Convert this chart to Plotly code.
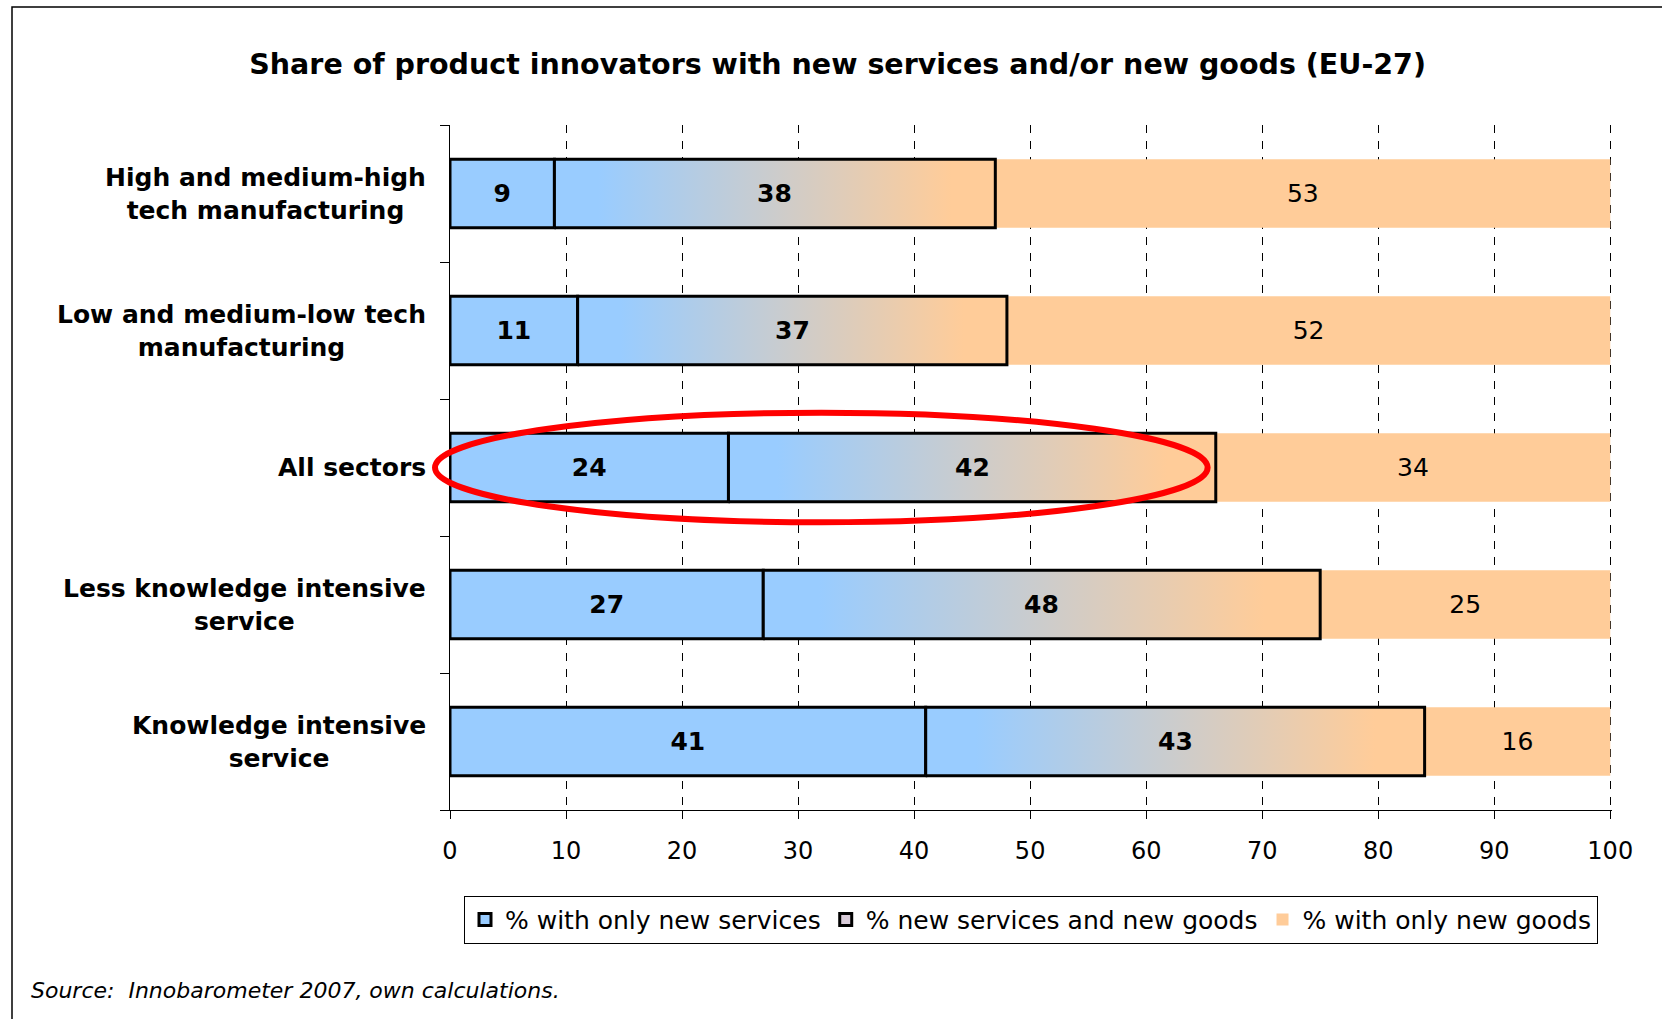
import plotly.graph_objects as go

# ---- data ----
categories = [
    "High and medium-high<br>tech manufacturing",
    "Low and medium-low tech<br>manufacturing",
    "All sectors",
    "Less knowledge intensive<br>service",
    "Knowledge intensive<br>service",
]
only_services = [9, 11, 24, 27, 41]
services_and_goods = [38, 37, 42, 48, 43]
only_goods = [53, 52, 34, 25, 16]
series_names = ["% with only new services", "% new services and new goods", "% with only new goods"]
x_ticks = list(range(0, 101, 10))

title_text = "Share of product innovators with new services and/or new goods (EU-27)"
source_text = "Source:  Innobarometer 2007, own calculations."

BLUE = "#99CCFF"
PEACH = "#FFCC99"
MIXED = "#D9CCD9"
FONT = "DejaVu Sans"

n = len(categories)
ypos = [n - 1 - i for i in range(n)]
half = 0.25

fig = go.Figure()

# blue segment
fig.add_trace(go.Bar(
    x=only_services, y=ypos, base=[0] * n, orientation="h", width=2 * half,
    name=series_names[0],
    marker=dict(color=BLUE, line=dict(color="black", width=3)),
    text=[str(v) for v in only_services], textposition="inside",
    insidetextanchor="middle", textangle=0,
    textfont=dict(family=FONT, size=25, color="black", weight="bold"),
    hoverinfo="skip",
))

# legend entry for the gradient segment
fig.add_trace(go.Bar(
    x=[None], y=[None], orientation="h", name=series_names[1],
    marker=dict(color=MIXED, line=dict(color="black", width=3)),
    hoverinfo="skip",
))

# gradient middle segment
for i in range(n):
    x0 = only_services[i]
    x1 = only_services[i] + services_and_goods[i]
    y = ypos[i]
    fig.add_trace(go.Scatter(
        x=[x0, x1, x1, x0, x0], y=[y - half, y - half, y + half, y + half, y - half],
        mode="lines", fill="toself",
        fillgradient=dict(type="horizontal",
                          colorscale=[[0, BLUE], [0.1, BLUE], [0.9, PEACH], [1, PEACH]]),
        line=dict(color="black", width=3),
        showlegend=False, hoverinfo="skip",
    ))

# peach segment
fig.add_trace(go.Bar(
    x=only_goods, y=ypos, base=[a + b for a, b in zip(only_services, services_and_goods)],
    orientation="h", width=2 * half,
    name=series_names[2],
    marker=dict(color=PEACH, line=dict(width=0)),
    text=[str(v) for v in only_goods], textposition="inside",
    insidetextanchor="middle", textangle=0,
    textfont=dict(family=FONT, size=25, color="black"),
    hoverinfo="skip",
))

# labels for middle segment
for a, b, y in zip(only_services, services_and_goods, ypos):
    fig.add_annotation(
        x=a + b / 2, xref="x", y=y, yref="y", text=str(b), showarrow=False,
        xanchor="center", yanchor="middle",
        font=dict(family=FONT, size=25, color="black", weight="bold"),
    )

# category labels
for lab, y in zip(categories, ypos):
    fig.add_annotation(
        x=0, xref="paper", y=y, yref="y", xshift=-22,
        text=lab, showarrow=False, xanchor="right", yanchor="middle", align="center",
        font=dict(family=FONT, size=25, color="black", weight="bold"),
    )

# source
fig.add_annotation(
    x=-0.3623, xref="paper", y=-0.264, yref="paper", text=source_text,
    showarrow=False, xanchor="left", yanchor="middle",
    font=dict(family=FONT, size=22, color="black", style="italic"),
)

# red ellipse highlight (paper coords so it is not clipped at the axis)
fig.add_shape(type="circle", xref="paper", yref="paper",
              x0=-0.0129, x1=0.652, y0=0.42, y1=0.58,
              line=dict(color="#FF0000", width=6))

# outer frame
fig.add_shape(type="rect", xref="paper", yref="paper",
              x0=(12 - 450) / 1162, x1=2, y0=-2, y1=(810 - 7) / 685,
              line=dict(color="black", width=1.5))

fig.update_layout(
    width=1662, height=1019,
    margin=dict(l=450, r=50, t=125, b=209),
    paper_bgcolor="white", plot_bgcolor="white",
    barmode="overlay",
    title=dict(text="<b>" + title_text + "</b>", x=0.504, xref="container", xanchor="center",
               y=1 - 64 / 1019, yref="container", yanchor="middle",
               font=dict(family=FONT, size=28.5, color="black")),
    xaxis=dict(range=[0, 100.15], tickvals=x_ticks, ticks="outside", ticklen=8,
               tickcolor="black", showline=True, linecolor="black", linewidth=1,
               showgrid=True, gridcolor="black", gridwidth=1, griddash="8px,8px",
               zeroline=False, ticklabelstandoff=11,
               tickfont=dict(family=FONT, size=24, color="black"), fixedrange=True),
    yaxis=dict(range=[-0.5, n - 0.5], tickmode="array", tickvals=ypos, ticks="",
               showticklabels=False, showline=True, linecolor="black", linewidth=1,
               showgrid=False, zeroline=False,
               minor=dict(tickmode="array", tickvals=[k - 0.5 for k in range(n + 1)],
                          ticks="outside", ticklen=9, tickcolor="black", showgrid=False)),
    legend=dict(orientation="h", x=0.5, xanchor="center", y=-0.125, yanchor="top",
                bordercolor="black", borderwidth=1,
                font=dict(family=FONT, size=25, color="black"),
                traceorder="normal", itemwidth=30),
    showlegend=True,
)

fig.write_html("out.html")
